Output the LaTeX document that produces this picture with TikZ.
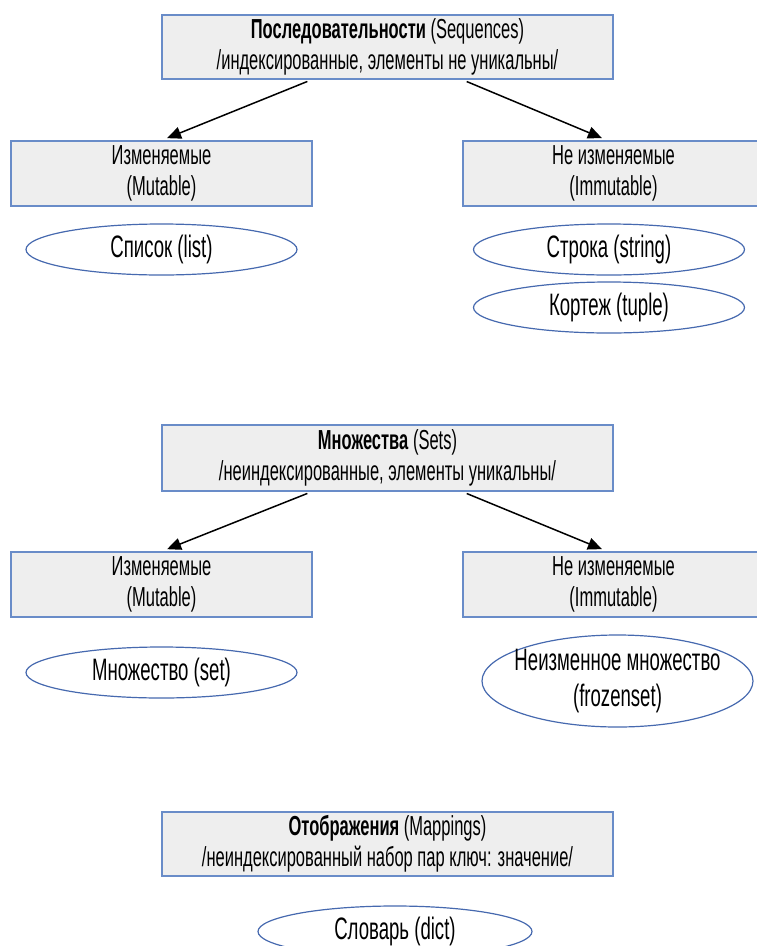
\documentclass[tikz,border=0pt]{standalone}
\usepackage{fontspec}
\setmainfont{Liberation Sans}[FakeStretch=0.6]
\usetikzlibrary{shapes.geometric,arrows.meta,calc}
\definecolor{boxfill}{RGB}{238,238,238}
\definecolor{boxline}{RGB}{105,140,200}
\definecolor{ellline}{RGB}{70,105,175}
\begin{document}
\begin{tikzpicture}[x=1pt,y=-1pt,
  catbox/.style={rectangle,draw=boxline,fill=boxfill,line width=1.2pt,minimum width=451pt,minimum height=64pt,inner sep=0pt,align=center,font=\fontsize{27.5}{30.5}\selectfont},
  subbox/.style={catbox,minimum width=301pt,minimum height=65pt},
  item/.style={ellipse,draw=ellline,fill=white,line width=1.2pt,minimum width=271pt,minimum height=51pt,inner sep=0pt,font=\fontsize{31}{36}\selectfont},
  arr/.style={line width=1.5pt,-{Triangle[length=14pt,width=12pt]},shorten <=5pt,shorten >=6pt}]
\useasboundingbox (0,0) rectangle (757,946);
\begin{scope}
\clip (0,0) rectangle (757,946);
% Sequences
\node[catbox] (seq) at (387.5,47) {\textbf{Последовательности} (Sequences)\\/индексированные, элементы не уникальны/};
\node[subbox] (mut1) at (161.5,173.5) {Изменяемые\\(Mutable)};
\node[subbox] (imm1) at (613.5,173.5) {Не изменяемые\\(Immutable)};
\node[item] (list) at (161.5,249.5) {Список (list)};
\node[item] (str) at (609,249.5) {Строка (string)};
\node[item] (tup) at (609,307.5) {Кортеж (tuple)};
\draw[arr] ($(seq.south west)!0.333!(seq.south east)$) -- (mut1.north);
\draw[arr] ($(seq.south west)!0.665!(seq.south east)$) -- ($(imm1.north west)!0.48!(imm1.north east)$);
% Sets
\node[catbox,minimum height=66pt] (sets) at (387.5,458) {\textbf{Множества} (Sets)\\/неиндексированные, элементы уникальны/};
\node[subbox] (mut2) at (161.5,584.5) {Изменяемые\\(Mutable)};
\node[subbox] (imm2) at (613.5,584.5) {Не изменяемые\\(Immutable)};
\node[item] (set) at (161.5,672.5) {Множество (set)};
\node[item,minimum height=92pt,label={[align=center,font=\fontsize{31}{36}\selectfont]center:{Неизменное множество\\(frozenset)}}] (fset) at (617.5,681) {};
\draw[arr] ($(sets.south west)!0.333!(sets.south east)$) -- (mut2.north);
\draw[arr] ($(sets.south west)!0.665!(sets.south east)$) -- ($(imm2.north west)!0.48!(imm2.north east)$);
% Mappings
\node[catbox] (map) at (387.5,844) {\textbf{Отображения} (Mappings)\\/неиндексированный набор пар ключ: значение/};
\node[item,minimum width=274pt] (dict) at (395,931.5) {Словарь (dict)};
\end{scope}
\end{tikzpicture}
\end{document}
